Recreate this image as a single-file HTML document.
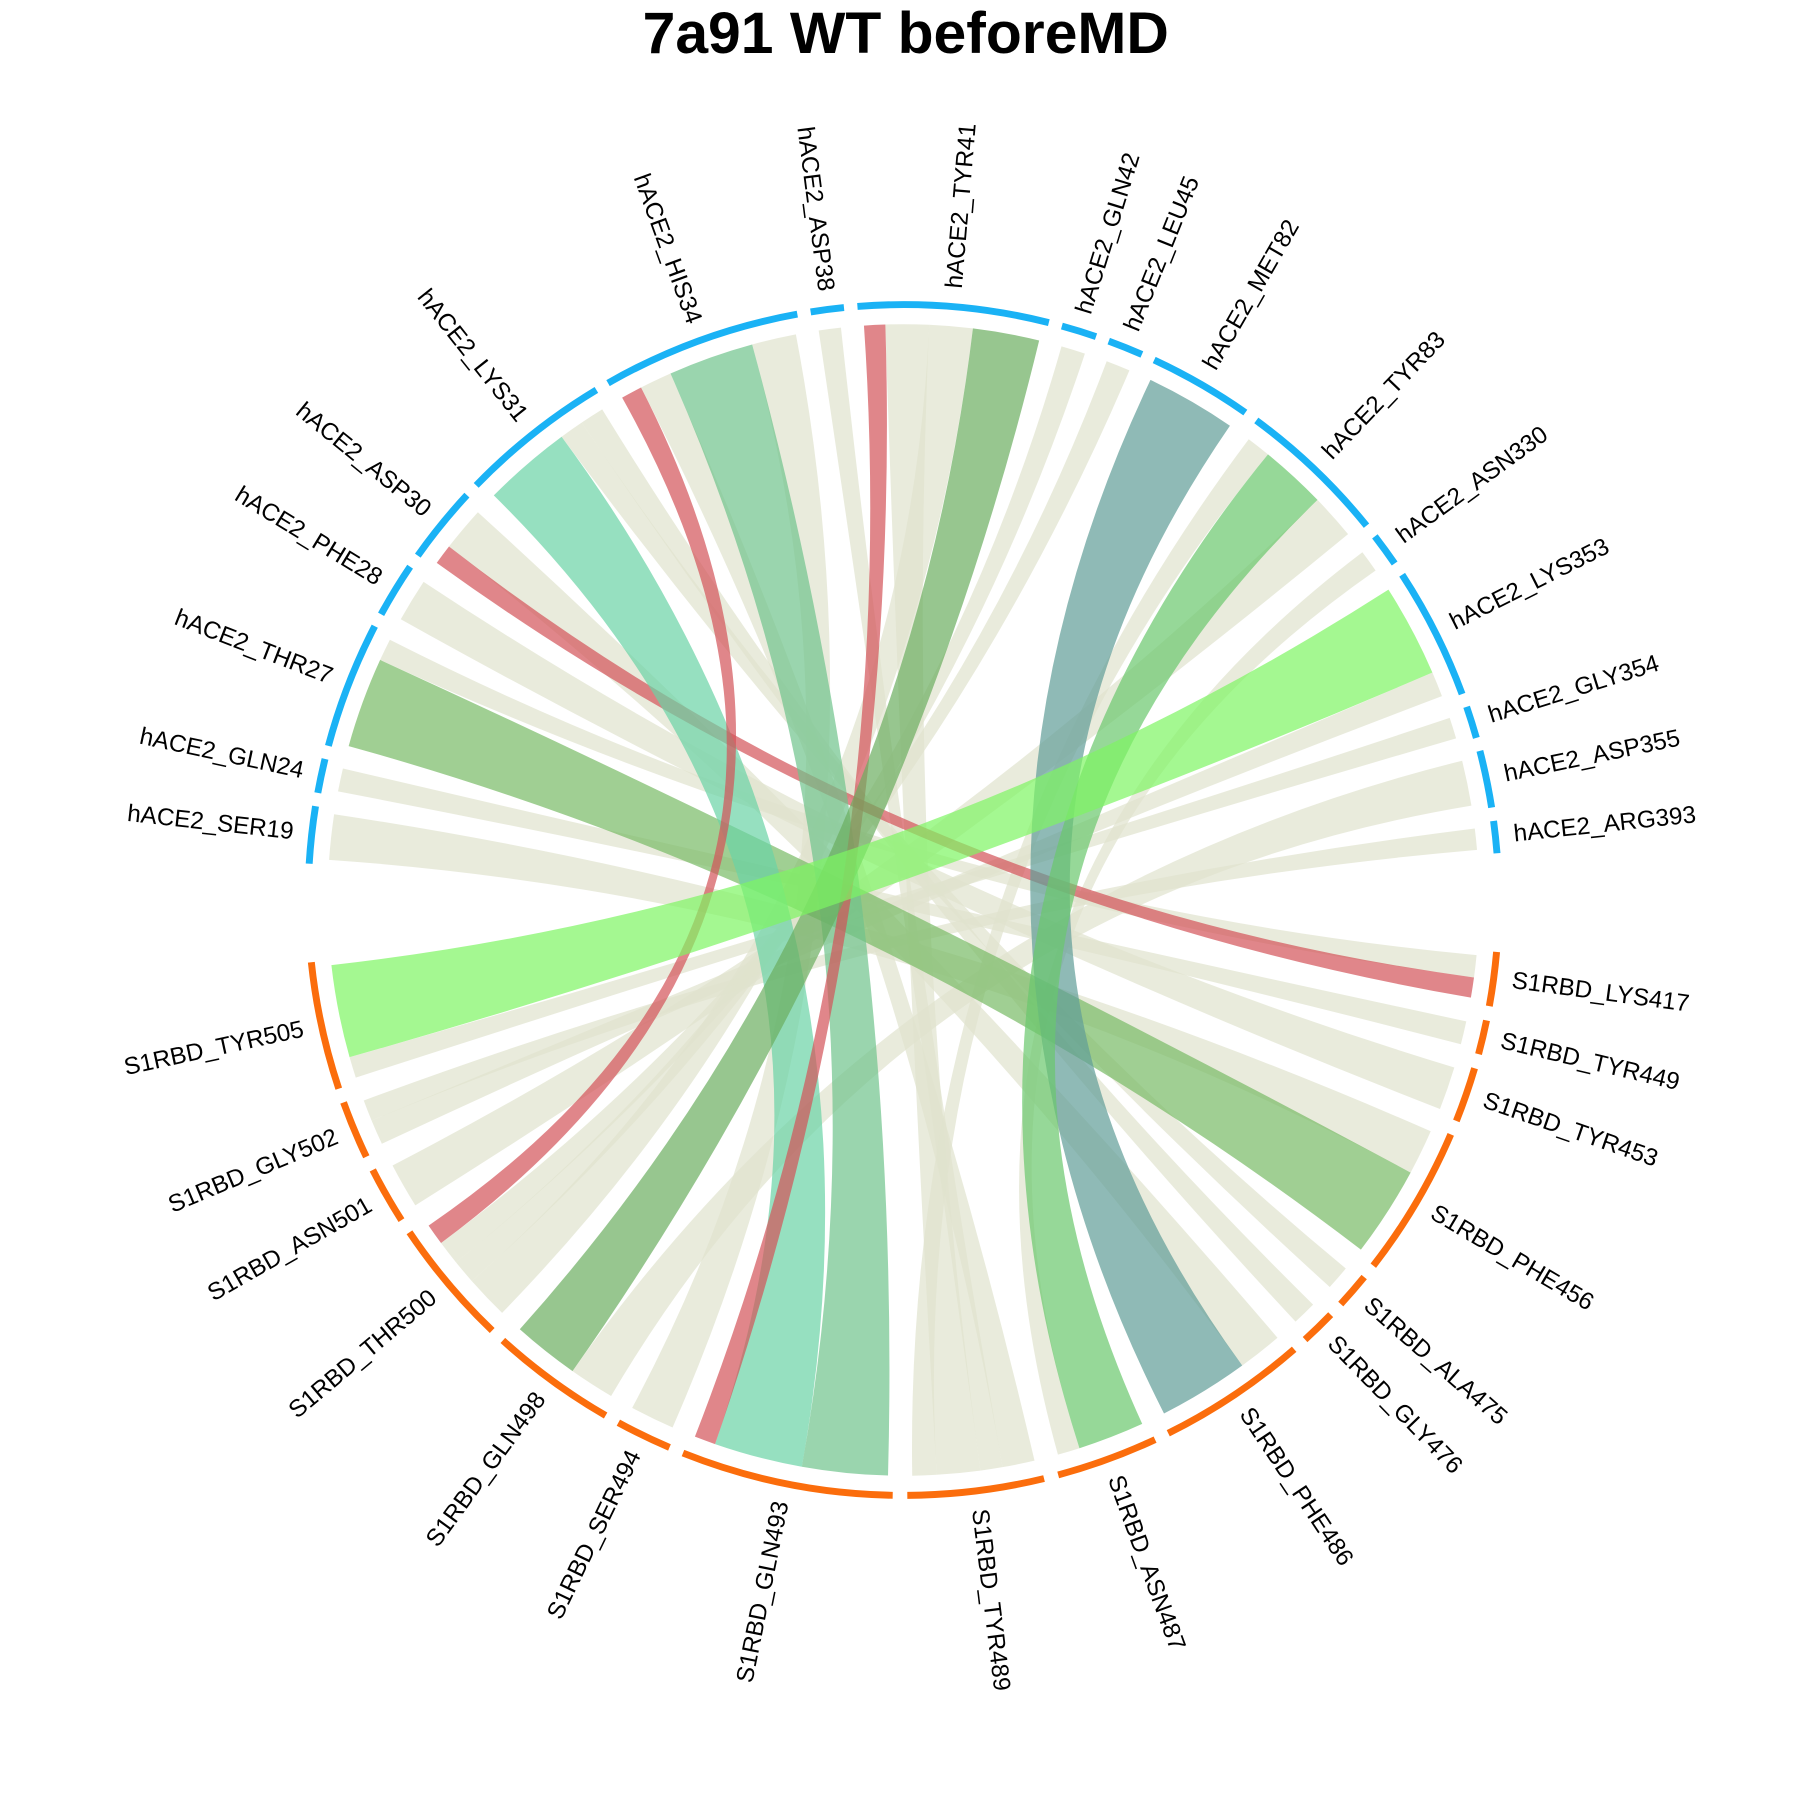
<!DOCTYPE html>
<html><head><meta charset="utf-8"><style>
html,body{margin:0;padding:0;background:#fff;}
svg{display:block;}
text{font-family:"Liberation Sans",Arial,sans-serif;}
</style></head><body>
<svg id="chart" width="1800" height="1800" viewBox="0 0 1560 1560" xmlns="http://www.w3.org/2000/svg">
<text x="785" y="46" text-anchor="middle" font-size="51" font-weight="bold" fill="#000">7a91 WT beforeMD</text>
<g id="ribbons"></g>
<g id="ticks"></g>
<g id="labels"></g>
</svg>
<script>
const hNodes = ["SER19","GLN24","THR27","PHE28","ASP30","LYS31","HIS34","ASP38","TYR41","GLN42","LEU45","MET82","TYR83","ASN330","LYS353","GLY354","ASP355","ARG393"];
const sNodes = ["LYS417","TYR449","TYR453","PHE456","ALA475","GLY476","PHE486","ASN487","TYR489","GLN493","SER494","GLN498","THR500","ASN501","GLY502","TYR505"];
const linkSrc = ["SER19","GLN24","THR27","THR27","PHE28","ASP30","ASP30","LYS31","LYS31","LYS31","HIS34","HIS34","HIS34","HIS34","ASP38","TYR41","TYR41","TYR41","TYR41","GLN42","LEU45","MET82","TYR83","TYR83","TYR83","ASN330","LYS353","LYS353","GLY354","ASP355","ARG393"];
const linkTgt = ["PHE456","TYR449","PHE456","LYS417","TYR453","LYS417","PHE486","GLN493","ALA475","GLY476","THR500","TYR489","GLN493","SER494","TYR489","GLN493","TYR489","THR500","GLN498","THR500","THR500","PHE486","TYR489","ASN487","ASN501","ASN487","TYR505","GLY502","TYR505","GLN498","GLY502"];
const linkVal = [45,23,90,22,43,20,44,88,24,24,21,32,85,44,22,21,43,43,66,24,24,90,24,66,45,22,92,25,21,45,21];
const linkCol = ["b","b","g3","b","b","r","b","t","b","b","r","b","g1","b","b","r","b","b","g2","b","b","bl","b","g4","b","b","g5","b","b","b","b"];
const tgtRank = [0,0,1,0,0,1,0,1,0,0,3,0,0,0,0,2,0,0,1,0,0,1,0,0,0,1,1,0,0,0,0];
const palette = {b:"#dfe2cd",r:"#d35258",t:"#69d3a5",g1:"#6fc38b",g2:"#6bae5f",g3:"#77ba65",bl:"#5f9d97",g4:"#69c76c",g5:"#7df563"};

const CX=783, CY=780, RR=499, RT=516, RL=532;
const NS="http://www.w3.org/2000/svg";
const rad=d=>d*Math.PI/180;
const pt=(a,r)=>[CX+r*Math.sin(rad(a)), CY-r*Math.cos(rad(a))];

const hStart=274, hEnd=445, sStart=95.5, sEnd=263.5;
const tot={};
linkSrc.forEach((s,i)=>{tot["h"+s]=(tot["h"+s]||0)+linkVal[i];});
linkTgt.forEach((t,i)=>{tot["s"+t]=(tot["s"+t]||0)+linkVal[i];});
const sumV=linkVal.reduce((a,b)=>a+b,0);
const hGap=2.3;
const k=(hEnd-hStart-hGap*(hNodes.length-1))/sumV;
const sGap=(sEnd-sStart-sumV*k)/(sNodes.length-1);
const pos={};
let a=hStart;
hNodes.forEach(n=>{const w=tot["h"+n]*k;pos["h"+n]=[a,a+w];a+=w+hGap;});
a=sStart;
sNodes.forEach(n=>{const w=tot["s"+n]*k;pos["s"+n]=[a,a+w];a+=w+sGap;});
const mid=key=>(pos[key][0]+pos[key][1])/2;

const slot={};
hNodes.forEach(n=>{
  const idx=linkSrc.map((s,i)=>s===n?i:-1).filter(i=>i>=0);
  let c=pos["h"+n][0];
  idx.forEach(i=>{slot["h"+i]=[c,c+linkVal[i]*k];c+=linkVal[i]*k;});
});
sNodes.forEach(n=>{
  const idx=linkTgt.map((t,i)=>t===n?i:-1).filter(i=>i>=0);
  idx.sort((x,y)=>(tgtRank[x]-tgtRank[y])||(mid("h"+linkSrc[x])-mid("h"+linkSrc[y])));
  let c=pos["s"+n][0];
  idx.forEach(i=>{slot["s"+i]=[c,c+linkVal[i]*k];c+=linkVal[i]*k;});
});

const rg=document.getElementById("ribbons");
const order=linkVal.map((v,i)=>i).sort((x,y)=>(linkCol[x]==="b"?0:1)-(linkCol[y]==="b"?0:1));
order.forEach(i=>{
  const [a1,a2]=slot["h"+i], [b1,b2]=slot["s"+i];
  const s1=pt(a1,RR),s2=pt(a2,RR),t1=pt(b1,RR),t2=pt(b2,RR);
  const la=(x,y)=>(y-x>180?1:0);
  const d=`M${s1[0]},${s1[1]} A${RR},${RR} 0 ${la(a1,a2)} 1 ${s2[0]},${s2[1]} Q${CX},${CY} ${t1[0]},${t1[1]} A${RR},${RR} 0 ${la(b1,b2)} 1 ${t2[0]},${t2[1]} Q${CX},${CY} ${s1[0]},${s1[1]} Z`;
  const p=document.createElementNS(NS,"path");
  p.setAttribute("d",d);
  p.setAttribute("fill",palette[linkCol[i]]);
  p.setAttribute("fill-opacity","0.7");
  
  
  rg.appendChild(p);
});

const tg=document.getElementById("ticks"), lg=document.getElementById("labels");
function drawNode(key,label,color){
  const [s,e]=pos[key];
  const p1=pt(s-0.5,RT),p2=pt(e+0.5,RT);
  const arc=document.createElementNS(NS,"path");
  arc.setAttribute("d",`M${p1[0]},${p1[1]} A${RT},${RT} 0 ${e-s>180?1:0} 1 ${p2[0]},${p2[1]}`);
  arc.setAttribute("stroke",color);arc.setAttribute("stroke-width","6");arc.setAttribute("fill","none");
  
  
  tg.appendChild(arc);
  let m=((s+e)/2)%360;
  const lp=pt(m,RL);
  const t=document.createElementNS(NS,"text");
  t.textContent=label;
  t.setAttribute("font-size","21");
  t.setAttribute("dominant-baseline","middle");
  if(m<180){t.setAttribute("text-anchor","start");t.setAttribute("transform",`translate(${lp[0]},${lp[1]}) rotate(${m-90})`);}
  else{t.setAttribute("text-anchor","end");t.setAttribute("transform",`translate(${lp[0]},${lp[1]}) rotate(${m+90})`);}
  
  
  lg.appendChild(t);
}
hNodes.forEach(n=>drawNode("h"+n,"hACE2_"+n,"#1ab2f5"));
sNodes.forEach(n=>drawNode("s"+n,"S1RBD_"+n,"#fb6d0c"));
</script>
</body></html>
